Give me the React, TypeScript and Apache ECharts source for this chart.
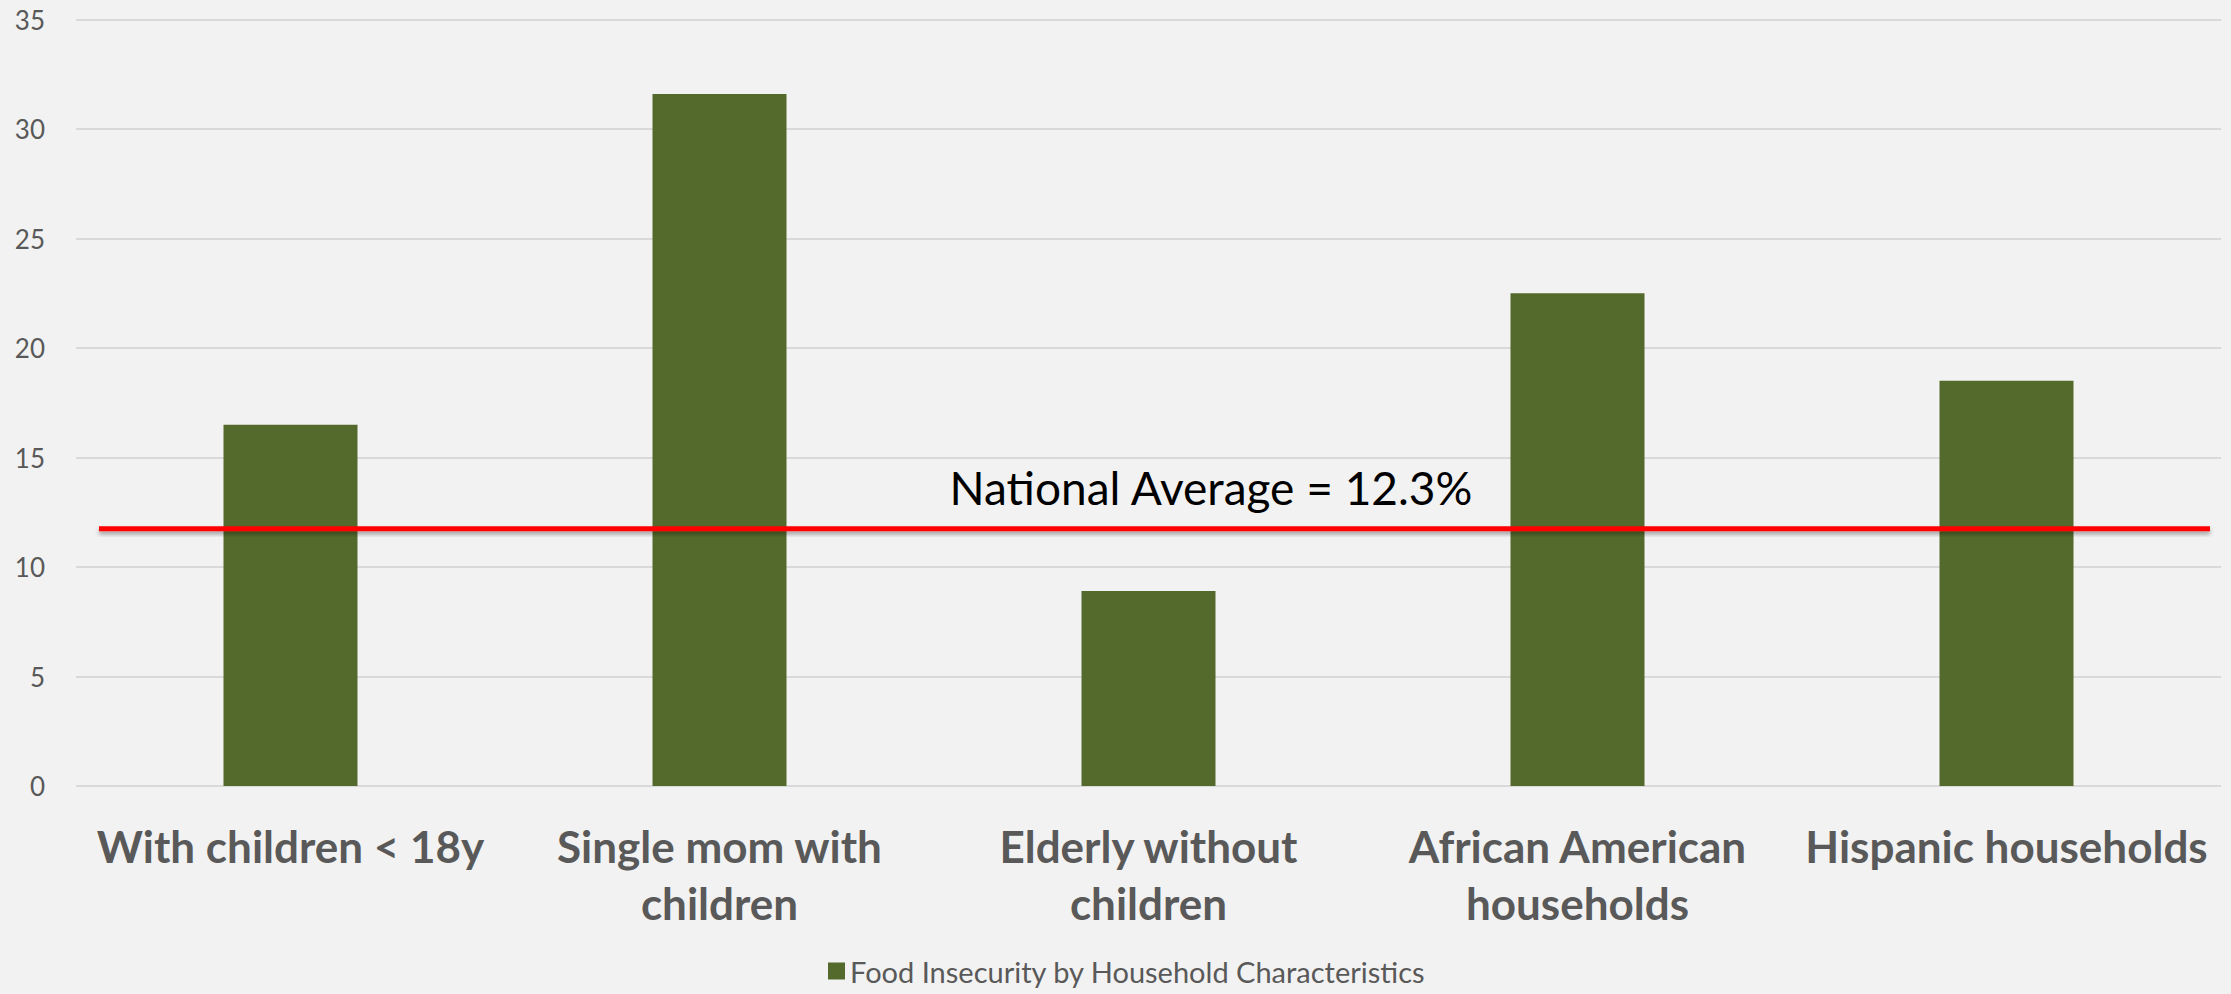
import React, { useEffect, useRef } from "react";
import * as echarts from "echarts";

const categories = [
  "With children < 18y",
  "Single mom with\nchildren",
  "Elderly without\nchildren",
  "African American\nhouseholds",
  "Hispanic households",
];
const seriesName = "Food Insecurity by Household Characteristics";
const values = [16.5, 31.6, 8.9, 22.5, 18.5];
const yTicks = { min: 0, max: 35, interval: 5 };
const averageLineValue = 11.75;
const averageLabel = "National Average = 12.3%";

const FONT = "Lato, 'Noto Sans', sans-serif";
const GREY = "#595959";

export default function App() {
  const ref = useRef<HTMLDivElement>(null);
  useEffect(() => {
    if (!ref.current) return;
    const chart = echarts.init(ref.current, undefined, { renderer: "svg" });
    chart.setOption({
      animation: false,
      backgroundColor: "#f2f2f2",
      textStyle: { fontFamily: FONT },
      grid: { left: 76, right: 10, top: 19.5, bottom: 208 },
      legend: {
        data: [seriesName],
        left: 828,
        top: 955,
        padding: 0,
        icon: "rect",
        itemWidth: 17,
        itemHeight: 17,
        itemGap: 10,
        textStyle: { fontSize: 29, lineHeight: 32, color: GREY, fontFamily: FONT },
      },
      xAxis: {
        type: "category",
        data: categories,
        axisLine: { show: false },
        axisTick: { show: false },
        axisLabel: {
          interval: 0,
          margin: 31.5,
          fontSize: 44,
          fontWeight: "bold",
          lineHeight: 57,
          color: GREY,
          fontFamily: FONT,
        },
      },
      yAxis: {
        type: "value",
        min: yTicks.min,
        max: yTicks.max,
        interval: yTicks.interval,
        axisLine: { show: false },
        axisTick: { show: false },
        axisLabel: { fontSize: 26, color: GREY, margin: 31, fontFamily: FONT },
        splitLine: { lineStyle: { color: "#d9d9d9", width: 2 } },
      },
      series: [
        {
          name: seriesName,
          type: "bar",
          data: values,
          barWidth: 134,
          itemStyle: { color: "#546a2d" },
        },
      ],
    });
    const y = chart.convertToPixel({ yAxisIndex: 0 }, averageLineValue) as number;
    chart.setOption({
      graphic: [
        {
          type: "rect",
          shape: { x: 99, y: y - 2.5, width: 2111, height: 5 },
          style: {
            fill: "#ff0000",
            shadowColor: "rgba(0,0,0,0.35)",
            shadowBlur: 4,
            shadowOffsetY: 3,
          },
          z: 100,
        },
        {
          type: "text",
          x: 1211,
          y: y - 41,
          style: {
            text: averageLabel,
            fontSize: 46,
            fontFamily: FONT,
            fill: "#000000",
            align: "center",
            verticalAlign: "middle",
          },
          z: 100,
        },
      ],
    });
    return () => chart.dispose();
  }, []);
  return (
    <div
      ref={ref}
      style={{ position: "fixed", left: 0, top: 0, width: 2231, height: 994 }}
    />
  );
}
